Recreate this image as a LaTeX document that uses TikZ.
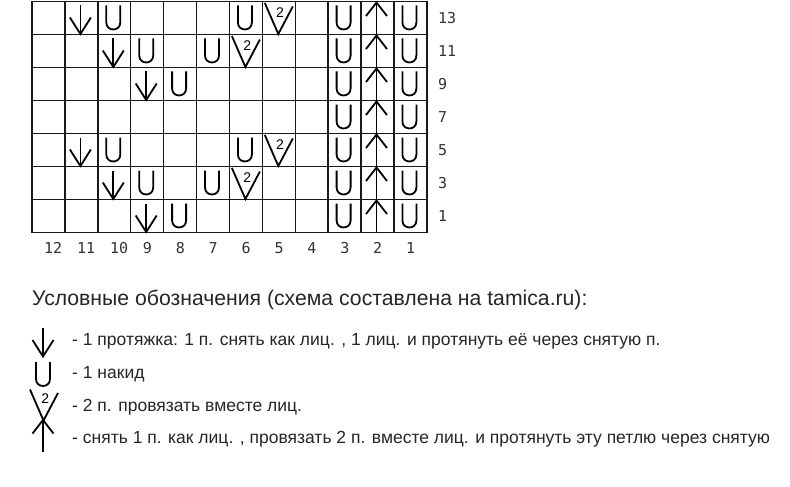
\documentclass[tikz,border=0pt]{standalone}
\usepackage{fontspec}
\setmainfont{Liberation Sans}
\newfontfamily\numfont{DejaVu Sans Mono}
\begin{document}
\begin{tikzpicture}[x=1pt,y=-1pt,
  gridline/.style={line width=1.4pt, black!90},
  sym/.style={line width=1.8pt, black},
  nums/.style={font=\numfont\fontsize{15}{15}\selectfont, text=black!80, inner sep=0pt},
  legtext/.style={font=\fontsize{17.5}{19}\selectfont, text=black!85, inner sep=0pt, anchor=base west},
  dn/.pic={\draw[sym] (15.5,4) -- (15.5,32.5); \draw[sym] (5,16) -- (15.5,32.5) -- (26,16);},
  upar/.pic={\draw[sym] (15.5,1) -- (15.5,33); \draw[sym] (5,14.5) -- (15.5,1) -- (26,14.5);},
  yo/.pic={\draw[sym] (8.5,4) -- (8.5,21) .. controls (8.5,30.3) and (22.5,30.3) .. (22.5,21) -- (22.5,4);},
  kt/.pic={\draw[sym] (2.5,1.5) -- (16,32.5) -- (30.5,5); \node[inner sep=0pt, font=\fontsize{14}{14}\selectfont] at (17.8,11) {2};}
]
\useasboundingbox (0,0) rectangle (790,487);
\fill[white] (0,0) rectangle (790,487);
% grid
\foreach \i in {0,...,12} \draw[gridline] ({32+\i*32.9},1.5) -- ({32+\i*32.9},232.5);
\foreach \j in {0,...,7} \draw[gridline] (32,{1.5+\j*33}) -- (426.8,{1.5+\j*33});
% symbols
\foreach \r in {0,...,6} {
  \pic at ({32+9*32.9},{1.5+\r*33}) {yo};
  \pic at ({32+10*32.9},{1.5+\r*33}) {upar};
  \pic at ({32+11*32.9},{1.5+\r*33}) {yo};
}
\foreach \r in {0,4} {
  \pic at ({32+1*32.9},{1.5+\r*33}) {dn};
  \pic at ({32+2*32.9},{1.5+\r*33}) {yo};
  \pic at ({32+6*32.9},{1.5+\r*33}) {yo};
  \pic at ({32+7*32.9},{1.5+\r*33}) {kt};
}
\foreach \r in {1,5} {
  \pic at ({32+2*32.9},{1.5+\r*33}) {dn};
  \pic at ({32+3*32.9},{1.5+\r*33}) {yo};
  \pic at ({32+5*32.9},{1.5+\r*33}) {yo};
  \pic at ({32+6*32.9},{1.5+\r*33}) {kt};
}
\foreach \r in {2,6} {
  \pic at ({32+3*32.9},{1.5+\r*33}) {dn};
  \pic at ({32+4*32.9},{1.5+\r*33}) {yo};
}
% row labels
\foreach \r/\t in {0/13,1/11,2/9,3/7,4/5,5/3,6/1}
  \node[nums, anchor=west] (row\t) at (438,{18+\r*33}) {\t};
% column labels
\foreach \c in {1,...,12}
  \node[nums, anchor=west] (col\c) at ({32+(12-\c)*32.9+16.5-4.5},248) {\c};
% legend
\node[inner sep=0pt, anchor=base west, font=\fontsize{21.2}{24}\selectfont, text=black!85] (title) at (32,305) {Условные обозначения (схема составлена на tamica.ru):};
\pic at (27.5,324) {dn};
\pic at (27.5,358) {yo};
\pic at (27.5,388) {kt};
\pic at (27.5,419) {upar};
\node[legtext] (l1) at (72,345.5) {- 1 протяжка: 1 п. снять как лиц. , 1 лиц. и протянуть её через снятую п.};
\node[legtext] (l2) at (72,378.5) {- 1 накид};
\node[legtext] (l3) at (72,411.5) {- 2 п. провязать вместе лиц.};
\node[legtext] (l4) at (72,443.5) {- снять 1 п. как лиц. , провязать 2 п. вместе лиц. и протянуть эту петлю через снятую};
\end{tikzpicture}
\end{document}
